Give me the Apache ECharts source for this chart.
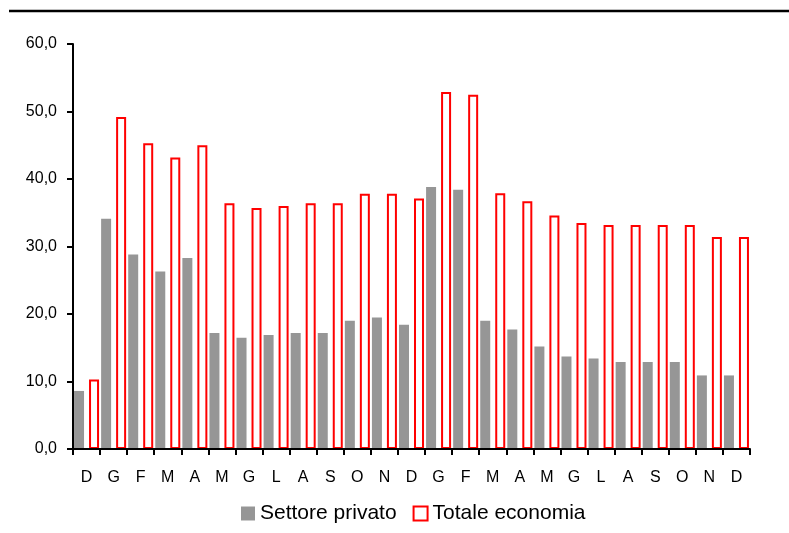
<!DOCTYPE html>
<html>
<head>
<meta charset="utf-8">
<script src="https://cdn.jsdelivr.net/npm/echarts@6/dist/echarts.min.js"></script>
<style>
  html, body { margin: 0; padding: 0; background: #fff; }
  #chart { width: 789px; height: 533px; }
</style>
</head>
<body>
<div id="chart"></div>
<script>
// mesi (dicembre -> dicembre, due anni)
const months = ['D', 'G', 'F', 'M', 'A', 'M', 'G', 'L', 'A', 'S', 'O', 'N', 'D',
  'G', 'F', 'M', 'A', 'M', 'G', 'L', 'A', 'S', 'O', 'N', 'D']
const settorePrivato = [8.6, 34.1, 28.8, 26.3, 28.3, 17.2, 16.5, 16.9, 17.2, 17.2, 19.0, 19.5, 18.4,
  38.8, 38.4, 19.0, 17.7, 15.2, 13.7, 13.4, 12.9, 12.9, 12.9, 10.9, 10.9]
const totaleEconomia = [10.3, 49.2, 45.3, 43.2, 45.0, 36.4, 35.7, 36.0, 36.4, 36.4, 37.8, 37.8, 37.1,
  52.9, 52.5, 37.9, 36.7, 34.6, 33.5, 33.2, 33.2, 33.2, 33.2, 31.4, 31.4]
const yTicks = { min: 0, max: 60, step: 10 }

const chart = echarts.init(document.getElementById('chart'))

const fmt = (v) => v.toFixed(1).replace('.', ',')

const option = {
  backgroundColor: '#fff',
  animation: false,
  textStyle: { fontFamily: 'Liberation Sans, Arial, sans-serif', color: '#000' },
  graphic: [{
    type: 'line',
    shape: { x1: 9, y1: 11, x2: 789, y2: 11 },
    style: { stroke: '#000', lineWidth: 2.5 }
  }],
  grid: { left: 73, right: 39, top: 44, bottom: 84 },
  legend: {
    left: 236,
    top: 498,
    itemWidth: 14,
    itemHeight: 14,
    itemGap: 16,
    textStyle: { fontSize: 21, color: '#000' },
    data: [
      { name: 'Settore privato', icon: 'rect' },
      { name: 'Totale economia', icon: 'rect' }
    ]
  },
  xAxis: {
    type: 'category',
    data: months,
    boundaryGap: true,
    z: 10,
    axisLine: { lineStyle: { color: '#000', width: 2 } },
    axisTick: { show: true, length: 6, lineStyle: { color: '#000', width: 2 } },
    axisLabel: { interval: 0, margin: 21, fontSize: 16, color: '#000' }
  },
  yAxis: {
    type: 'value',
    min: yTicks.min,
    max: yTicks.max,
    interval: yTicks.step,
    z: 10,
    axisLine: { show: true, lineStyle: { color: '#000', width: 2 } },
    axisTick: { show: true, length: 6, lineStyle: { color: '#000', width: 2 } },
    splitLine: { show: false },
    axisLabel: { margin: 16, fontSize: 16, color: '#000', formatter: fmt }
  },
  series: [
    {
      name: 'Settore privato',
      type: 'bar',
      data: settorePrivato,
      barWidth: 10,
      barGap: '50%',
      itemStyle: { color: '#969696' }
    },
    {
      name: 'Totale economia',
      type: 'bar',
      data: totaleEconomia,
      barWidth: 10,
      itemStyle: { color: '#fff', borderColor: '#ff0000', borderWidth: 2 }
    }
  ]
}

chart.setOption(option)
</script>
</body>
</html>
